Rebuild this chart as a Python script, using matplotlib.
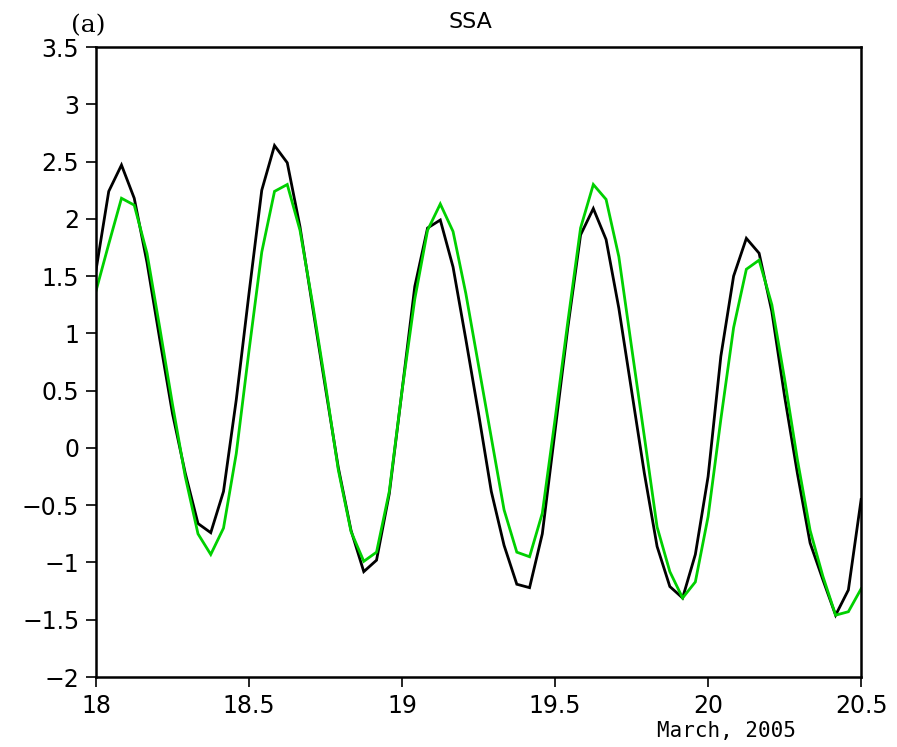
import numpy as np
import matplotlib
matplotlib.use("Agg")
import matplotlib.pyplot as plt
from matplotlib.ticker import FuncFormatter

# hourly values, 18 March 00h .. 20 March 12h
hours = np.arange(61)
obs = [1.55, 2.24, 2.47, 2.18, 1.62, 0.95, 0.30, -0.22, -0.66, -0.74,
       -0.38, 0.42, 1.35, 2.25, 2.64, 2.49, 1.93, 1.22, 0.52, -0.17,
       -0.72, -1.08, -0.98, -0.40, 0.50, 1.41, 1.92, 1.99, 1.58, 0.95,
       0.30, -0.38, -0.85, -1.19, -1.22, -0.75, 0.15, 1.05, 1.86, 2.09,
       1.82, 1.22, 0.50, -0.22, -0.86, -1.21, -1.31, -0.93, -0.25, 0.80,
       1.50, 1.83, 1.70, 1.19, 0.45, -0.22, -0.83, -1.15, -1.46, -1.24,
       -0.45]
ssa = [1.37, 1.78, 2.18, 2.12, 1.70, 1.05, 0.38, -0.25, -0.75, -0.93,
       -0.70, -0.05, 0.85, 1.71, 2.24, 2.30, 1.90, 1.25, 0.55, -0.19,
       -0.73, -0.99, -0.91, -0.38, 0.50, 1.30, 1.90, 2.13, 1.89, 1.35,
       0.72, 0.09, -0.54, -0.91, -0.95, -0.57, 0.25, 1.10, 1.92, 2.30,
       2.17, 1.67, 0.88, 0.10, -0.69, -1.08, -1.31, -1.17, -0.60, 0.25,
       1.05, 1.56, 1.64, 1.25, 0.60, -0.10, -0.72, -1.12, -1.46, -1.43,
       -1.23]
xticks = [18, 18.5, 19, 19.5, 20, 20.5]
yticks = [-2, -1.5, -1, -0.5, 0, 0.5, 1, 1.5, 2, 2.5, 3, 3.5]

days = 18 + hours / 24.0

plt.rcParams['font.family'] = ['DejaVu Sans']

fig = plt.figure(figsize=(8.97, 7.47), dpi=100)
ax = fig.add_axes([0.107, 0.0937, 0.853, 0.8433])

ax.plot(days, obs, color='black', lw=2.0, solid_joinstyle='miter')
ax.plot(days, ssa, color='#00d000', lw=2.0, solid_joinstyle='miter')

ax.set_xlim(18, 20.5)
ax.set_ylim(-2, 3.5)
ax.set_xticks(xticks)
ax.set_yticks(yticks)

def fmt(v, pos):
    s = ('%g' % v)
    return s.replace('-', '\u2212')

ax.xaxis.set_major_formatter(FuncFormatter(fmt))
ax.yaxis.set_major_formatter(FuncFormatter(fmt))
ax.tick_params(direction='out', length=7, width=1.2, labelsize=17, pad=5)
for sp in ax.spines.values():
    sp.set_linewidth(1.8)

fig.text(0.524, 0.970, 'SSA', ha='center', va='center', fontsize=16)
fig.text(0.098, 0.966, '(a)', ha='center', va='center', fontsize=18,
         family=['DejaVu Serif'])
fig.text(0.81, 0.021, 'March, 2005', ha='center', va='center', fontsize=15,
         family=['DejaVu Sans Mono'])

fig.savefig('out.png', dpi=100)
